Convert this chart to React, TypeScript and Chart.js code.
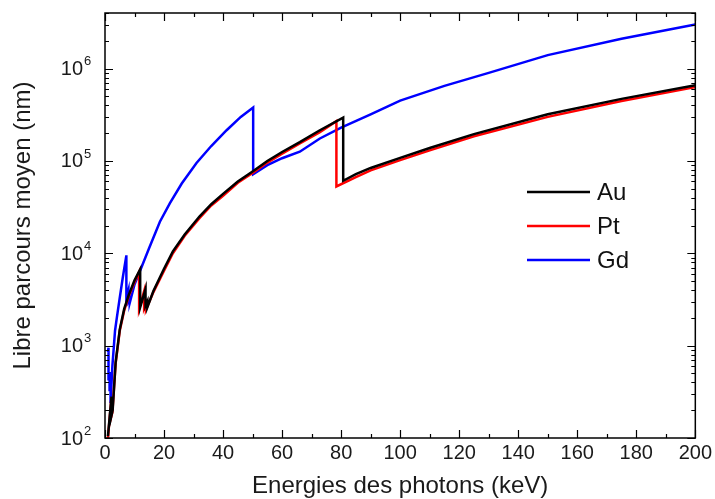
import React, { useEffect, useRef } from "react";
import { Chart, registerables } from "chart.js";

Chart.register(...registerables);

// Photon energy (keV) and mean free path (nm) for each element
const energyAu = [1, 2.2, 2.2, 2.6, 3.6, 5, 6.5, 8, 10, 11.92, 11.92, 13.73, 13.73, 14.35, 14.35, 16.4, 20, 23, 27, 32, 36, 40, 45, 50, 55, 60, 66, 72.8, 80.7, 80.7, 85, 90, 100, 110, 125, 150, 175, 200];
const mfpAu = [105, 280, 175, 200, 660, 1500, 2500, 3500, 5100, 6700, 2600, 4100, 2700, 3000, 2600, 3900, 6800, 10500, 16000, 25000, 34000, 44000, 60000, 77000, 100000, 125000, 160000, 215000, 295000, 61000, 72000, 84000, 108000, 138000, 195000, 320000, 470000, 660000];

const energyPt = [1, 2.12, 2.12, 2.5, 3.6, 5, 6.5, 8, 10, 11.56, 11.56, 13.27, 13.27, 13.88, 13.88, 16.4, 20, 23, 27, 32, 36, 40, 45, 50, 55, 60, 66, 72.8, 78.4, 78.4, 85, 90, 100, 110, 125, 150, 175, 200];
const mfpPt = [100, 260, 170, 190, 640, 1450, 2400, 3400, 4900, 6300, 2500, 3900, 2550, 2850, 2450, 3800, 6500, 10000, 15500, 24000, 33000, 42000, 58000, 74000, 96000, 120000, 155000, 205000, 270000, 53000, 67000, 79000, 102000, 130000, 185000, 300000, 445000, 630000];

const energyGd = [1, 1.19, 1.19, 1.55, 1.55, 1.88, 1.88, 2.5, 3.4, 4, 5, 6, 7.24, 7.24, 7.93, 7.93, 8.38, 8.38, 10, 12.4, 15, 18.6, 22, 26, 31, 36, 41.2, 46, 50.2, 50.2, 55, 60, 66, 72.8, 80, 90, 100, 115, 130, 150, 175, 200];
const mfpGd = [850, 950, 420, 520, 320, 370, 240, 600, 1450, 2000, 3300, 5400, 9500, 3300, 4000, 3000, 3200, 2900, 4600, 7100, 11500, 22000, 35000, 57000, 95000, 145000, 215000, 300000, 380000, 72000, 90000, 107000, 126000, 175000, 230000, 320000, 450000, 650000, 900000, 1400000, 2100000, 3000000];

const seriesLabels = ["Au", "Pt", "Gd"];
const seriesColors = ["#000000", "#ff0000", "#0000ff"];

const xTickValues = [0, 20, 40, 60, 80, 100, 120, 140, 160, 180, 200];
const yDecades = [100, 1000, 10000, 100000, 1000000];

const xTitle = "Energies des photons (keV)";
const yTitle = "Libre parcours moyen (nm)";

const FONT = "Arial, 'Liberation Sans', sans-serif";

const framePlugin = {
  id: "frameTicksLegend",
  afterDraw(chart: any) {
    const { ctx, chartArea } = chart;
    const { left, right, top, bottom } = chartArea;
    const xs = chart.scales.x;
    const ys = chart.scales.y;
    ctx.save();
    ctx.strokeStyle = "#000";
    ctx.lineWidth = 1.5;
    ctx.strokeRect(left, top, right - left, bottom - top);

    ctx.lineWidth = 1.2;
    ctx.beginPath();
    for (let v = 0; v <= 200; v += 10) {
      const px = Math.round(xs.getPixelForValue(v)) + 0.5;
      const len = v % 20 === 0 ? 8 : 4;
      ctx.moveTo(px, bottom);
      ctx.lineTo(px, bottom - len);
      ctx.moveTo(px, top);
      ctx.lineTo(px, top + len);
    }
    for (const d of yDecades) {
      for (let m = 1; m <= 9; m++) {
        const v = m * d;
        if (v > ys.max) continue;
        const py = Math.round(ys.getPixelForValue(v)) + 0.5;
        const len = m === 1 ? 8 : 4;
        ctx.moveTo(left, py);
        ctx.lineTo(left + len, py);
        ctx.moveTo(right, py);
        ctx.lineTo(right - len, py);
      }
    }
    ctx.stroke();

    // y tick labels: 10 with superscript exponent
    ctx.fillStyle = "#1a1a1a";
    for (const d of yDecades) {
      const py = ys.getPixelForValue(d);
      const exp = String(Math.round(Math.log10(d)));
      ctx.font = `20px ${FONT}`;
      ctx.textAlign = "right";
      ctx.textBaseline = "middle";
      ctx.fillText("10", left - 22, py + 1);
      ctx.font = `13px ${FONT}`;
      ctx.textAlign = "left";
      ctx.fillText(exp, left - 21, py - 7);
    }

    // legend
    const lx0 = 527;
    const lx1 = 590;
    const rowY = [192, 226, 260];
    chart.data.datasets.forEach((ds: any, i: number) => {
      const y = rowY[i];
      ctx.strokeStyle = ds.borderColor;
      ctx.lineWidth = 2.5;
      ctx.beginPath();
      ctx.moveTo(lx0, y);
      ctx.lineTo(lx1, y);
      ctx.stroke();
      ctx.fillStyle = "#111";
      ctx.font = `24px ${FONT}`;
      ctx.textAlign = "left";
      ctx.textBaseline = "middle";
      ctx.fillText(ds.label, lx1 + 7, y + 1);
    });
    ctx.restore();
  },
};

export default function App() {
  const canvasRef = useRef<HTMLCanvasElement | null>(null);

  useEffect(() => {
    if (!canvasRef.current) return;
    const energies = [energyAu, energyPt, energyGd];
    const values = [mfpAu, mfpPt, mfpGd];
    const chart = new Chart(canvasRef.current, {
      type: "line",
      data: {
        datasets: seriesLabels.map((label, i) => ({
          label,
          data: energies[i].map((e, j) => ({ x: e, y: values[i][j] })),
          borderColor: seriesColors[i],
          backgroundColor: seriesColors[i],
          borderWidth: 2.5,
          pointRadius: 0,
          tension: 0,
          fill: false,
        })),
      },
      options: {
        animation: false,
        responsive: true,
        maintainAspectRatio: false,
        layout: { padding: { left: 0, right: 19, top: 13, bottom: 0 } },
        plugins: { legend: { display: false }, tooltip: { enabled: false } },
        scales: {
          x: {
            type: "linear",
            min: 0,
            max: 200,
            afterBuildTicks: (s: any) => {
              s.ticks = xTickValues.map((v) => ({ value: v }));
            },
            afterFit: (s: any) => {
              s.height = 61;
            },
            ticks: {
              color: "#1a1a1a",
              font: { family: FONT, size: 20 },
              padding: 3,
              maxRotation: 0,
              autoSkip: false,
            },
            grid: { display: false, drawTicks: false },
            border: { display: false },
            title: {
              display: true,
              text: xTitle,
              color: "#1a1a1a",
              font: { family: FONT, size: 24 },
              padding: { top: 0, bottom: -2 },
            },
          },
          y: {
            type: "logarithmic",
            min: 100,
            max: 4000000,
            afterFit: (s: any) => {
              s.width = 105;
            },
            ticks: { display: false },
            grid: { display: false, drawTicks: false },
            border: { display: false },
            title: {
              display: true,
              text: yTitle,
              color: "#1a1a1a",
              font: { family: FONT, size: 24 },
              padding: { top: 9, bottom: 0 },
            },
          },
        },
      },
      plugins: [framePlugin],
    });
    return () => chart.destroy();
  }, []);

  return (
    <div style={{ position: "absolute", left: 0, top: 0, width: 715, height: 499, background: "#fff" }}>
      <canvas ref={canvasRef} />
    </div>
  );
}
